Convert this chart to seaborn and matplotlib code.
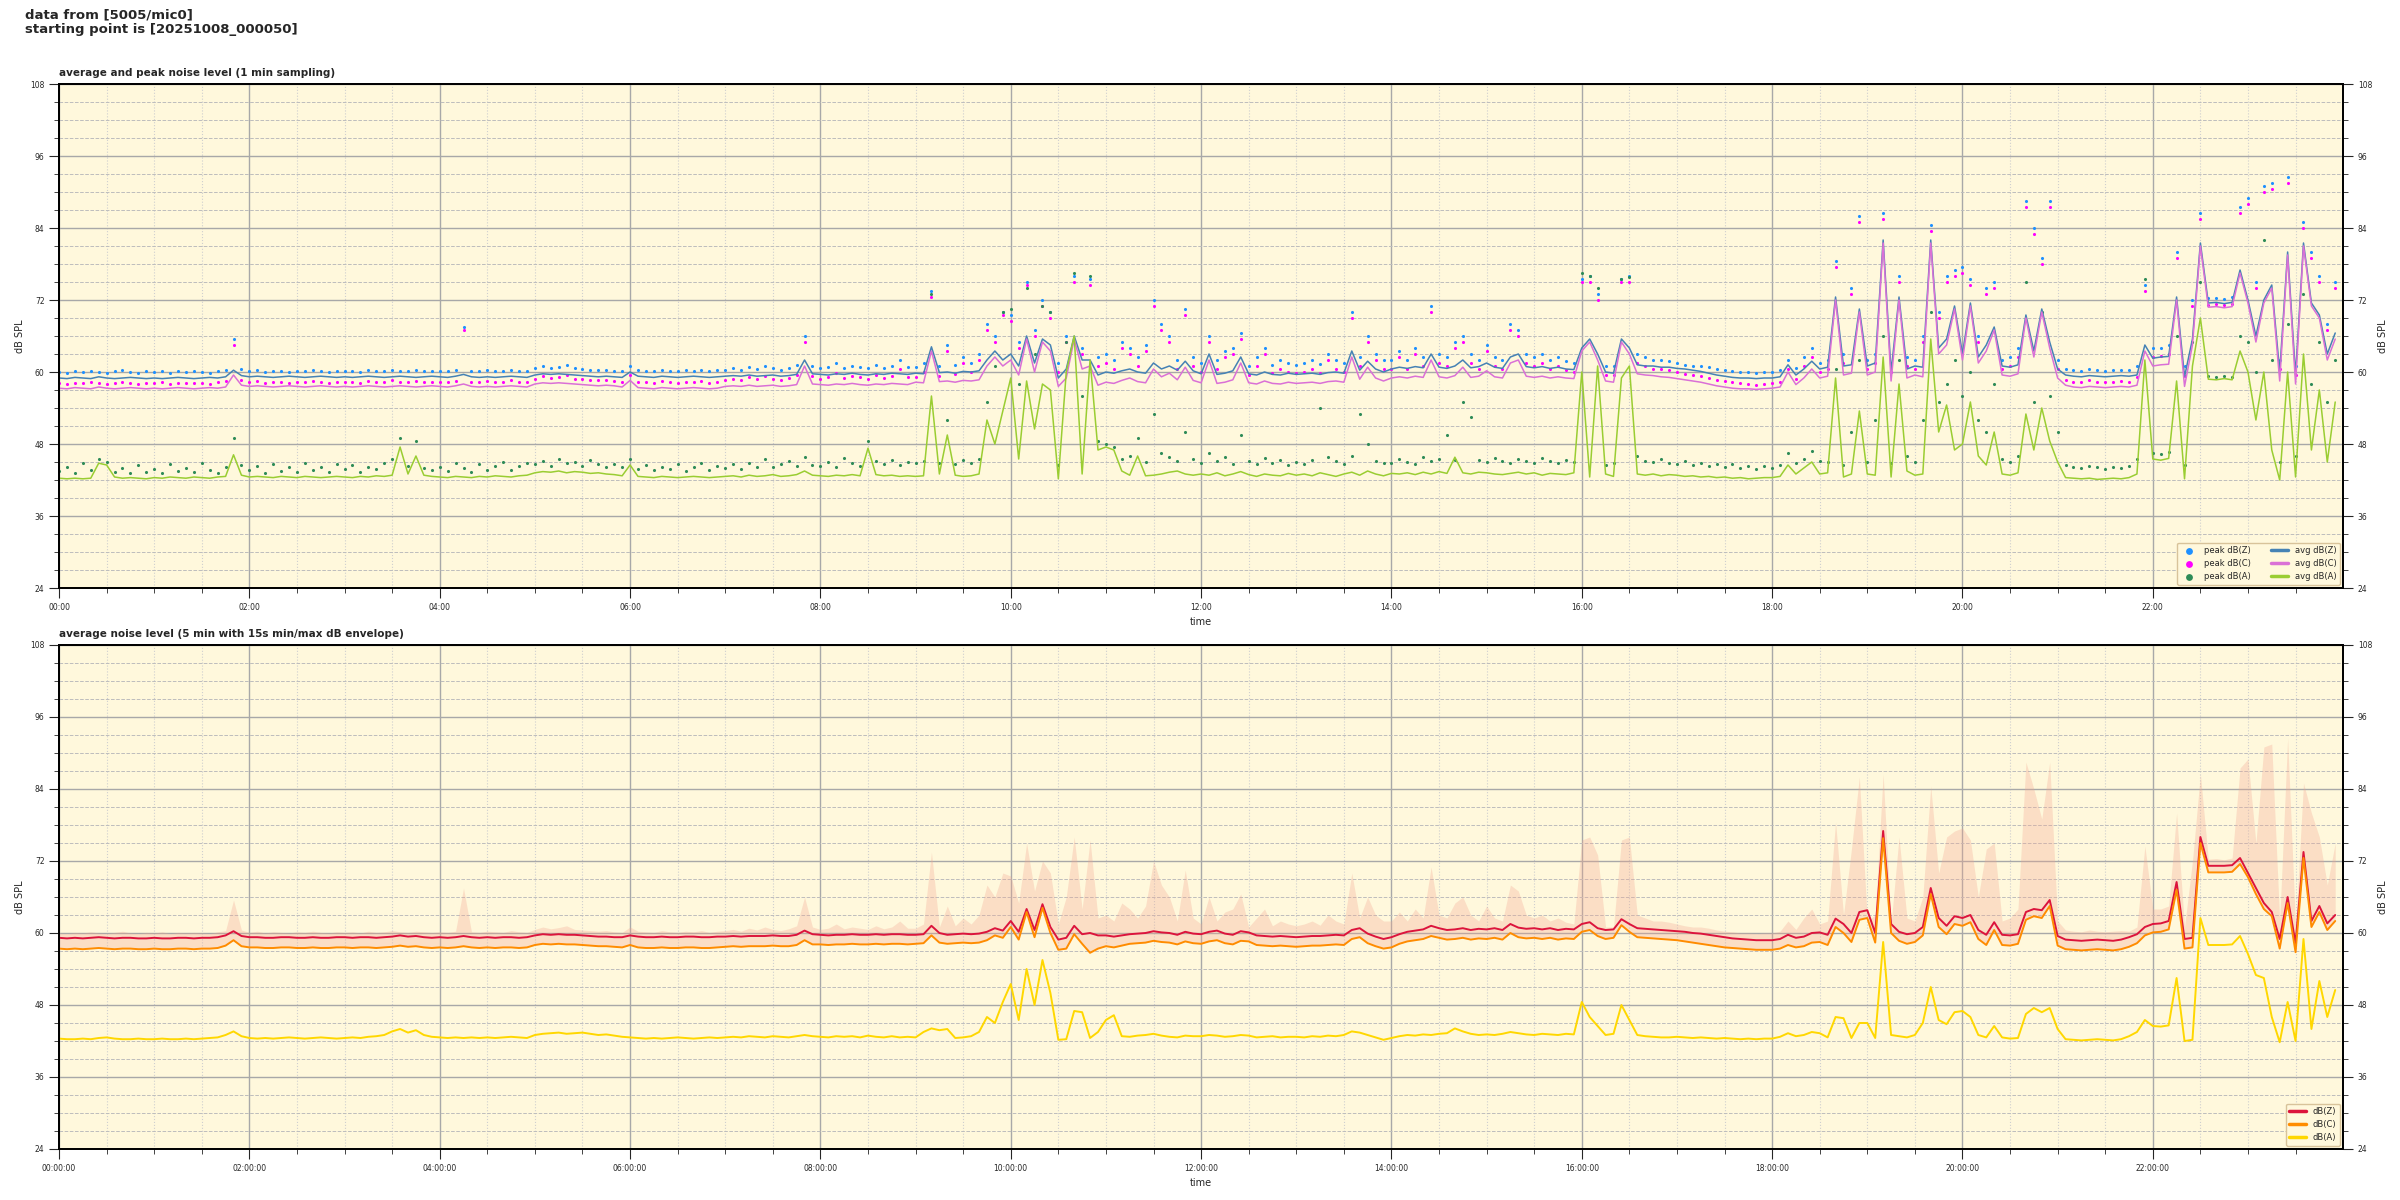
import pandas as pd
import numpy as np
import matplotlib
matplotlib.use("Agg")
import matplotlib.pyplot as plt
import matplotlib.dates as mdates
from matplotlib.ticker import MultipleLocator
import seaborn as sns

# --- data (5 min slots, one row of 12 values per hour) ---
avg_z = [
    59.0, 58.9, 59.1, 59.0, 58.9, 59.2, 59.0, 58.9, 59.0, 59.1, 59.0, 58.9,
    59.0, 58.9, 59.0, 59.1, 59.0, 58.9, 59.0, 59.1, 59.0, 59.2, 60.3, 59.4,
    59.2, 59.3, 59.2, 59.1, 59.2, 59.3, 59.2, 59.1, 59.2, 59.3, 59.2, 59.1,
    59.2, 59.1, 59.2, 59.3, 59.2, 59.1, 59.2, 59.3, 59.2, 59.1, 59.2, 59.3,
    59.2, 59.1, 59.3, 59.6, 59.2, 59.1, 59.2, 59.1, 59.2, 59.3, 59.2, 59.1,
    59.5, 59.7, 59.6, 59.7, 59.6, 59.5, 59.4, 59.3, 59.2, 59.3, 59.2, 59.1,
    60.0, 59.3, 59.2, 59.1, 59.3, 59.2, 59.1, 59.2, 59.3, 59.2, 59.1, 59.2,
    59.3, 59.4, 59.3, 59.5, 59.3, 59.4, 59.5, 59.3, 59.4, 59.6, 62.0, 59.7,
    59.6, 59.5, 59.7, 59.6, 59.8, 59.6, 59.5, 59.7, 59.6, 59.8, 59.7, 59.6,
    59.8, 59.7, 64.2, 59.9, 60.0, 59.8, 60.1, 60.0, 60.2, 62.0, 63.5, 62.0,
    63.0, 61.0, 66.0, 61.5, 65.5, 64.5, 59.0, 60.5, 66.0, 62.0, 62.0, 59.5,
    60.0, 59.8, 60.2, 60.5, 60.0, 59.8, 61.5, 60.5, 61.0, 60.3, 61.8, 60.2,
    59.7, 63.0, 59.6, 59.8, 60.2, 62.5, 59.7, 59.5, 60.0, 59.6, 59.5, 59.8,
    59.6, 59.7, 59.8, 59.6, 59.9, 60.0, 59.8, 63.5, 60.3, 61.8, 60.5, 60.0,
    60.5, 60.8, 60.6, 60.9, 60.7, 63.0, 60.8, 60.6, 61.0, 62.0, 60.7, 60.9,
    61.5, 60.8, 60.6, 62.5, 63.0, 60.9, 60.7, 60.9, 60.6, 60.8, 60.5, 60.4,
    64.0, 65.5, 63.0, 60.0, 59.8, 65.5, 64.0, 61.2, 61.0, 61.0, 60.8, 60.8,
    60.6, 60.5, 60.3, 60.1, 59.8, 59.5, 59.3, 59.1, 59.0, 59.0, 58.9, 59.0,
    59.0, 59.2, 61.2, 59.5, 60.5, 61.8, 60.5, 60.8, 72.5, 61.0, 61.2, 70.5,
    61.0, 61.5, 82.0, 60.0, 72.5, 60.5, 61.0, 60.8, 82.0, 64.0, 65.5, 71.0,
    63.0, 71.5, 62.5, 64.5, 67.5, 61.0, 60.8, 61.2, 69.5, 63.5, 70.5, 65.0,
    60.5, 59.5, 59.3, 59.2, 59.4, 59.3, 59.2, 59.3, 59.4, 59.3, 59.5, 64.5,
    62.3, 62.5, 62.6, 72.5, 59.2, 65.5, 81.5, 71.5, 71.6, 71.4, 71.6, 77.0,
    72.0, 66.0, 72.0, 74.5, 60.0, 80.0, 59.5, 81.5, 71.5, 69.5, 63.0, 66.5,
]

avg_c = [
    57.3, 57.2, 57.4, 57.3, 57.2, 57.5, 57.3, 57.2, 57.3, 57.4, 57.3, 57.2,
    57.3, 57.2, 57.3, 57.4, 57.3, 57.2, 57.3, 57.4, 57.3, 57.5, 59.5, 57.8,
    57.6, 57.7, 57.6, 57.5, 57.6, 57.7, 57.6, 57.5, 57.6, 57.7, 57.6, 57.5,
    57.6, 57.5, 57.6, 57.7, 57.6, 57.5, 57.6, 57.7, 57.6, 57.5, 57.6, 57.7,
    57.6, 57.5, 57.7, 58.0, 57.6, 57.5, 57.6, 57.5, 57.6, 57.7, 57.6, 57.5,
    58.0, 58.2, 58.1, 58.2, 58.1, 58.0, 57.9, 57.8, 57.7, 57.8, 57.7, 57.5,
    58.6, 57.4, 57.3, 57.2, 57.4, 57.3, 57.2, 57.3, 57.4, 57.3, 57.2, 57.3,
    57.6, 57.7, 57.6, 57.8, 57.6, 57.7, 57.8, 57.6, 57.7, 57.9, 61.0, 58.0,
    57.9, 57.8, 58.0, 57.9, 58.1, 57.9, 57.8, 58.0, 57.9, 58.1, 58.0, 57.9,
    58.3, 58.2, 63.5, 58.4, 58.5, 58.3, 58.6, 58.5, 58.7, 61.0, 62.5, 61.0,
    62.0, 59.5, 65.5, 60.0, 65.0, 63.5, 57.6, 59.0, 65.5, 60.5, 61.0, 57.8,
    58.3, 58.1, 58.6, 59.0, 58.4, 58.2, 60.5, 59.2, 59.8, 58.7, 60.8, 58.6,
    58.2, 62.0, 58.1, 58.3, 58.7, 61.5, 58.2, 58.0, 58.5, 58.1, 58.0, 58.3,
    58.1, 58.2, 58.3, 58.1, 58.4, 58.5, 58.3, 62.5, 58.8, 60.8, 59.0, 58.5,
    59.0, 59.2, 59.0, 59.3, 59.1, 62.0, 59.2, 59.0, 59.4, 60.8, 59.1, 59.3,
    60.2, 59.2, 59.0, 61.5, 62.0, 59.3, 59.1, 59.3, 59.0, 59.2, 59.0, 58.9,
    63.5, 65.0, 62.0, 58.5, 58.3, 65.0, 63.0, 59.7, 59.5, 59.4, 59.2, 59.1,
    58.9, 58.7, 58.5, 58.3, 58.0, 57.7, 57.5, 57.3, 57.2, 57.2, 57.1, 57.2,
    57.3, 57.5, 60.0, 57.9, 59.0, 60.5, 59.0, 59.3, 72.0, 59.5, 59.8, 70.0,
    59.5, 60.0, 81.5, 58.5, 72.0, 59.0, 59.5, 59.2, 81.5, 63.0, 64.5, 70.5,
    62.0, 71.0, 61.5, 63.5, 67.0, 59.5, 59.3, 59.7, 69.0, 62.5, 70.0, 64.0,
    59.0, 57.8, 57.5, 57.4, 57.6, 57.5, 57.4, 57.5, 57.6, 57.5, 57.8, 63.5,
    61.0, 61.2, 61.3, 72.0, 57.6, 64.5, 81.0, 70.8, 70.9, 70.7, 70.9, 76.5,
    71.5, 65.0, 71.5, 74.0, 58.5, 79.5, 58.0, 81.0, 71.0, 69.0, 62.0, 65.5,
]

avg_a = [
    42.3, 42.2, 42.3, 42.2, 42.3, 44.8, 44.5, 42.5, 42.3, 42.4, 42.3, 42.2,
    42.4, 42.3, 42.5, 42.4, 42.3, 42.5, 42.4, 42.3, 42.5, 42.6, 46.2, 42.8,
    42.5, 42.6, 42.5, 42.4, 42.6, 42.5, 42.4, 42.6, 42.5, 42.4, 42.5, 42.6,
    42.5, 42.4, 42.6, 42.5, 42.7, 42.6, 42.8, 47.5, 43.0, 46.0, 42.8, 42.6,
    42.5, 42.4, 42.6, 42.5, 42.4, 42.6, 42.5, 42.7, 42.6, 42.5, 42.7, 42.8,
    43.2, 43.4, 43.3, 43.5, 43.2, 43.4, 43.3, 43.1, 43.2, 43.0, 42.9, 42.7,
    44.5, 42.6, 42.5, 42.4, 42.6, 42.5, 42.4, 42.5, 42.6, 42.5, 42.4, 42.5,
    42.6, 42.7, 42.5, 42.8, 42.6, 42.7, 42.9, 42.6, 42.7, 42.9, 43.5, 42.8,
    42.7, 42.6, 42.8, 42.7, 42.9, 42.7, 47.3, 42.9, 42.7, 42.8, 42.6, 42.7,
    42.6, 42.7, 56.0, 43.0, 49.5, 42.8, 42.6, 42.7, 43.0, 52.0, 48.0, 53.5,
    59.0, 45.5, 58.5, 50.5, 58.0, 57.0, 42.2, 60.0, 66.0, 43.0, 62.0, 47.0,
    47.5, 47.0, 43.5, 42.8, 46.0, 42.7, 42.8, 43.0, 43.3, 43.5, 43.0, 42.8,
    43.0, 42.8, 43.2, 42.7, 43.0, 43.4, 42.9, 42.6, 43.0, 42.8, 42.7, 43.1,
    42.8, 43.0, 42.7, 43.2, 42.9, 42.6, 43.0, 43.3, 42.8, 43.5, 43.0, 42.7,
    43.1, 43.0, 43.2, 42.9, 43.3, 43.0, 43.4, 43.1, 45.8, 43.2, 43.0, 43.3,
    43.2, 43.0, 42.9, 43.1, 43.3, 43.0, 43.2, 42.8, 43.1, 43.0, 42.9, 43.2,
    60.0, 42.5, 61.0, 43.0, 42.6, 59.0, 61.0, 43.0, 42.8, 43.0, 42.7, 42.9,
    42.8, 42.6, 42.7, 42.5, 42.6, 42.4, 42.5, 42.3, 42.4, 42.2, 42.3, 42.4,
    42.4, 42.6, 44.5, 43.0, 44.0, 45.0, 43.0, 43.2, 59.0, 42.5, 43.0, 53.5,
    43.0, 42.8, 62.5, 42.5, 58.0, 43.5, 42.8, 43.0, 65.5, 50.0, 54.5, 47.0,
    48.0, 55.0, 46.0, 44.5, 50.0, 43.0, 42.8, 43.2, 53.0, 47.0, 54.0, 48.5,
    45.0, 42.4, 42.3, 42.2, 42.3, 42.1, 42.2, 42.3, 42.2, 42.4, 43.0, 62.0,
    45.5, 45.3, 45.6, 58.5, 42.2, 61.0, 69.0, 58.8, 58.7, 58.9, 58.7, 63.5,
    60.0, 52.0, 60.0, 47.0, 42.0, 60.0, 42.5, 63.0, 47.0, 57.0, 45.0, 55.0,
]

peak_z = [
    60.0, 59.9, 60.1, 60.0, 60.2, 60.0, 59.9, 60.1, 60.3, 60.0, 59.9, 60.1,
    60.0, 60.2, 59.9, 60.1, 60.0, 60.1, 60.0, 59.9, 60.2, 60.4, 65.5, 60.5,
    60.1, 60.3, 60.0, 60.2, 60.1, 60.0, 60.2, 60.1, 60.3, 60.1, 60.0, 60.2,
    60.1, 60.2, 60.0, 60.3, 60.1, 60.2, 60.4, 60.2, 60.1, 60.3, 60.2, 60.1,
    60.2, 60.1, 60.3, 67.5, 60.2, 60.1, 60.3, 60.2, 60.1, 60.4, 60.2, 60.1,
    60.6, 61.0, 60.7, 60.9, 61.2, 60.6, 60.5, 60.4, 60.3, 60.4, 60.2, 60.1,
    61.0, 60.3, 60.2, 60.1, 60.4, 60.2, 60.1, 60.3, 60.2, 60.4, 60.1, 60.3,
    60.4, 60.6, 60.3, 60.8, 60.5, 61.0, 60.6, 60.4, 60.7, 61.2, 66.0, 61.0,
    60.6, 60.8, 61.5, 60.7, 61.0, 60.8, 60.6, 61.2, 60.7, 61.0, 62.0, 60.8,
    60.8, 61.5, 73.5, 61.0, 64.5, 61.2, 62.5, 61.5, 63.0, 68.0, 66.0, 70.0,
    69.5, 65.0, 75.0, 67.0, 72.0, 70.0, 61.5, 66.0, 76.0, 64.0, 75.5, 62.5,
    63.0, 62.0, 65.0, 64.0, 62.5, 64.5, 72.0, 68.0, 66.0, 62.0, 70.5, 62.5,
    61.5, 66.0, 62.0, 63.5, 64.0, 66.5, 61.0, 62.5, 64.0, 61.2, 62.0, 61.5,
    61.2, 61.5, 62.0, 61.3, 63.0, 62.0, 61.5, 70.0, 62.5, 66.0, 63.0, 62.0,
    62.0, 63.5, 62.0, 64.0, 62.5, 71.0, 63.0, 62.5, 65.0, 66.0, 63.0, 62.0,
    64.5, 62.5, 62.0, 68.0, 67.0, 63.0, 62.5, 63.0, 62.0, 62.5, 61.8, 61.5,
    75.5, 76.0, 73.0, 61.0, 61.0, 75.5, 76.0, 63.0, 62.5, 62.0, 62.0, 61.8,
    61.5, 61.2, 61.0, 61.0, 60.8, 60.5, 60.3, 60.2, 60.0, 60.0, 59.9, 60.0,
    60.0, 60.3, 62.0, 60.6, 62.5, 64.0, 61.5, 62.0, 78.5, 63.0, 74.0, 86.0,
    62.0, 63.0, 86.5, 61.5, 76.0, 62.5, 62.0, 66.0, 84.5, 70.0, 76.0, 77.0,
    77.5, 75.5, 66.0, 74.0, 75.0, 62.0, 62.5, 64.0, 88.5, 84.0, 79.0, 88.5,
    62.0, 60.5, 60.3, 60.2, 60.5, 60.3, 60.2, 60.3, 60.4, 60.3, 61.0, 74.5,
    64.0, 64.0, 64.5, 80.0, 61.0, 72.0, 86.5, 72.3, 72.4, 72.2, 72.5, 87.5,
    89.0, 75.0, 91.0, 91.5, 62.0, 92.5, 61.0, 85.0, 80.0, 76.0, 68.0, 75.0,
]

peak_c = [
    58.1, 58.0, 58.2, 58.1, 58.3, 58.1, 58.0, 58.2, 58.4, 58.1, 58.0, 58.2,
    58.1, 58.3, 58.0, 58.2, 58.1, 58.2, 58.1, 58.0, 58.3, 58.5, 64.5, 58.6,
    58.3, 58.5, 58.2, 58.4, 58.3, 58.2, 58.4, 58.3, 58.5, 58.3, 58.2, 58.4,
    58.3, 58.4, 58.2, 58.5, 58.3, 58.4, 58.6, 58.4, 58.3, 58.5, 58.4, 58.3,
    58.4, 58.3, 58.5, 67.0, 58.4, 58.3, 58.5, 58.4, 58.3, 58.6, 58.4, 58.3,
    58.9, 59.3, 59.0, 59.2, 59.5, 58.9, 58.8, 58.7, 58.6, 58.7, 58.5, 58.4,
    59.5, 58.4, 58.3, 58.2, 58.5, 58.3, 58.2, 58.4, 58.3, 58.5, 58.2, 58.4,
    58.7, 58.9, 58.6, 59.1, 58.8, 59.3, 58.9, 58.7, 59.0, 59.5, 65.0, 59.3,
    58.9, 59.1, 59.8, 59.0, 59.3, 59.1, 58.9, 59.5, 59.0, 59.3, 60.5, 59.1,
    59.2, 60.0, 72.5, 59.4, 63.5, 59.6, 61.5, 60.0, 62.0, 67.0, 65.0, 69.5,
    68.5, 64.0, 74.5, 66.0, 71.0, 69.0, 60.0, 65.0, 75.0, 63.0, 74.5, 61.0,
    61.5, 60.5, 64.0, 63.0, 61.0, 63.5, 71.0, 67.0, 65.0, 60.5, 69.5, 61.0,
    60.0, 65.0, 60.5, 62.5, 63.0, 65.5, 59.5, 61.0, 63.0, 59.8, 60.5, 60.0,
    59.8, 60.0, 60.5, 59.9, 62.0, 60.5, 60.0, 69.0, 61.0, 65.0, 62.0, 60.5,
    60.5, 62.5, 60.5, 63.0, 61.0, 70.0, 61.5, 61.0, 64.0, 65.0, 61.5, 60.5,
    63.5, 61.0, 60.5, 67.0, 66.0, 61.5, 61.0, 61.5, 60.5, 61.0, 60.3, 60.0,
    75.0, 75.0, 72.0, 59.5, 59.5, 75.0, 75.0, 61.5, 61.0, 60.5, 60.5, 60.3,
    60.0, 59.7, 59.5, 59.3, 59.0, 58.7, 58.5, 58.3, 58.1, 58.0, 57.9, 58.0,
    58.1, 58.4, 60.5, 58.8, 61.0, 62.5, 60.0, 60.5, 77.5, 61.5, 73.0, 85.0,
    60.5, 61.5, 85.5, 60.0, 75.0, 61.0, 60.5, 65.0, 83.5, 69.0, 75.0, 76.0,
    76.5, 74.5, 65.0, 73.0, 74.0, 60.5, 61.0, 62.5, 87.5, 83.0, 78.0, 87.5,
    60.5, 58.6, 58.4, 58.3, 58.6, 58.4, 58.3, 58.4, 58.5, 58.4, 59.2, 73.5,
    62.5, 62.6, 63.0, 79.0, 59.3, 71.0, 85.5, 71.2, 71.3, 71.1, 71.4, 86.5,
    88.0, 74.0, 90.0, 90.5, 60.5, 91.5, 59.5, 84.0, 79.0, 75.0, 67.0, 74.0,
]

peak_a = [
    43.5, 44.2, 43.1, 44.8, 43.6, 45.5, 45.0, 43.4, 44.0, 43.2, 44.5, 43.3,
    43.8, 43.2, 44.6, 43.5, 44.0, 43.3, 44.9, 43.6, 43.1, 44.2, 49.0, 44.5,
    43.6, 44.3, 43.2, 44.7, 43.5, 44.1, 43.4, 44.9, 43.7, 44.2, 43.3, 44.6,
    43.8, 44.5, 43.4, 44.2, 43.9, 44.8, 45.5, 49.0, 44.3, 48.5, 44.0, 43.6,
    44.2, 43.5, 44.8, 44.0, 43.4, 44.6, 43.7, 44.3, 45.0, 43.6, 44.4, 44.9,
    44.6, 45.2, 44.3, 45.5, 44.8, 45.0, 44.4, 45.3, 44.6, 44.1, 44.7, 44.2,
    45.5, 43.9, 44.5, 43.6, 44.2, 43.8, 44.6, 43.5, 44.1, 44.8, 43.7, 44.3,
    44.0, 44.7, 43.8, 44.9, 44.2, 45.5, 44.1, 44.6, 45.2, 44.3, 45.8, 44.5,
    44.4, 45.0, 44.2, 45.6, 44.8, 44.3, 48.5, 45.1, 44.6, 45.3, 44.5, 45.0,
    44.8, 45.2, 73.0, 44.9, 52.0, 44.6, 45.3, 44.8, 45.5, 55.0, 61.0, 70.0,
    70.5, 58.0, 74.0, 63.0, 71.0, 70.0, 44.5, 65.0, 76.5, 56.0, 76.0, 48.5,
    48.0, 47.5, 45.5, 46.0, 49.0, 45.0, 53.0, 46.5, 45.8, 45.2, 50.0, 45.5,
    44.8, 46.5, 45.2, 45.8, 44.6, 49.5, 45.1, 44.7, 45.6, 44.9, 45.3, 44.5,
    45.0, 44.6, 45.4, 54.0, 45.9, 45.2, 44.7, 46.0, 53.0, 48.0, 45.1, 44.9,
    44.9, 45.5, 45.0, 44.6, 45.8, 45.2, 45.5, 49.5, 45.4, 55.0, 52.5, 45.3,
    45.0, 45.6, 45.2, 44.8, 45.5, 45.1, 44.9, 45.7, 45.2, 44.8, 45.3, 45.0,
    76.5, 76.0, 74.0, 44.5, 44.8, 75.5, 75.8, 46.0, 45.2, 45.0, 45.5, 44.8,
    44.6, 45.1, 44.5, 44.9, 44.3, 44.7, 44.2, 44.6, 44.0, 44.4, 43.9, 44.3,
    44.0, 44.5, 46.5, 44.8, 45.5, 46.8, 45.2, 45.0, 60.5, 44.5, 50.0, 62.0,
    45.0, 52.0, 66.0, 44.8, 62.0, 46.0, 45.0, 52.0, 70.0, 55.0, 58.0, 62.0,
    56.0, 60.0, 52.0, 50.0, 58.0, 45.5, 45.0, 46.0, 75.0, 55.0, 70.0, 56.0,
    50.0, 44.5, 44.2, 44.0, 44.3, 44.1, 43.9, 44.2, 44.0, 44.4, 45.5, 75.5,
    46.5, 46.3, 46.6, 66.0, 44.5, 65.0, 75.0, 59.3, 59.2, 59.4, 59.1, 66.0,
    65.0, 60.0, 82.0, 62.0, 45.0, 68.0, 46.0, 73.0, 58.0, 65.0, 55.0, 62.0,
]

# 5 min averages for the lower panel
env_z = [
    59.2, 59.1, 59.2, 59.1, 59.2, 59.3, 59.2, 59.1, 59.2, 59.2, 59.1, 59.1,
    59.2, 59.1, 59.1, 59.2, 59.2, 59.1, 59.2, 59.2, 59.3, 59.6, 60.3, 59.5,
    59.3, 59.3, 59.2, 59.2, 59.3, 59.3, 59.2, 59.2, 59.3, 59.2, 59.2, 59.3,
    59.3, 59.2, 59.3, 59.3, 59.2, 59.3, 59.4, 59.6, 59.4, 59.5, 59.3, 59.2,
    59.3, 59.2, 59.3, 59.5, 59.3, 59.2, 59.3, 59.2, 59.3, 59.3, 59.2, 59.3,
    59.6, 59.8, 59.7, 59.8, 59.7, 59.7, 59.6, 59.5, 59.4, 59.4, 59.3, 59.3,
    59.6, 59.4, 59.3, 59.3, 59.4, 59.3, 59.3, 59.4, 59.4, 59.3, 59.3, 59.4,
    59.4, 59.5, 59.4, 59.5, 59.5, 59.5, 59.6, 59.5, 59.5, 59.7, 60.4, 59.8,
    59.7, 59.6, 59.7, 59.7, 59.8, 59.7, 59.7, 59.8, 59.7, 59.8, 59.8, 59.7,
    59.7, 59.8, 61.2, 60.0, 59.7, 59.8, 59.9, 59.8, 59.9, 60.2, 60.8, 60.4,
    62.0, 60.2, 64.0, 60.5, 64.8, 61.0, 58.9, 59.2, 61.2, 59.8, 60.0, 59.6,
    59.6, 59.4, 59.6, 59.8, 59.9, 60.0, 60.3, 60.1, 60.0, 59.7, 60.2, 59.9,
    59.8, 60.2, 60.4, 59.9, 59.7, 60.3, 60.1, 59.6, 59.5, 59.4, 59.5, 59.4,
    59.3, 59.4, 59.5, 59.5, 59.6, 59.7, 59.6, 60.5, 60.8, 59.9, 59.4, 59.0,
    59.3, 59.8, 60.2, 60.4, 60.6, 61.2, 60.8, 60.5, 60.6, 60.8, 60.5, 60.7,
    60.6, 60.8, 60.5, 61.5, 60.9, 60.7, 60.8, 60.6, 60.8, 60.5, 60.7, 60.6,
    61.5, 61.8, 60.8, 60.5, 60.6, 62.3, 61.5, 60.8, 60.7, 60.6, 60.5, 60.4,
    60.3, 60.2, 60.0, 59.9, 59.7, 59.5, 59.3, 59.1, 59.0, 58.9, 58.8, 58.8,
    58.8, 59.0, 59.7, 59.2, 59.4, 60.0, 60.1, 59.7, 62.4, 61.5, 60.0, 63.5,
    63.8, 60.0, 77.0, 61.5, 60.2, 59.8, 60.0, 61.0, 67.5, 62.5, 61.2, 62.8,
    62.5, 63.0, 60.5, 59.7, 61.8, 59.7, 59.6, 59.8, 63.5, 64.0, 63.8, 65.5,
    59.5, 58.9, 58.8, 58.7, 58.8, 58.9, 58.8, 58.7, 58.9, 59.3, 59.8, 61.0,
    61.5, 61.6, 62.0, 68.5, 59.0, 59.2, 76.0, 71.2, 71.2, 71.2, 71.3, 72.5,
    70.0, 67.5, 65.0, 63.5, 59.0, 66.0, 58.3, 73.5, 62.0, 64.5, 61.6, 63.0,
]

env_c = [
    57.4, 57.3, 57.4, 57.3, 57.4, 57.5, 57.4, 57.3, 57.4, 57.4, 57.3, 57.3,
    57.4, 57.3, 57.3, 57.4, 57.4, 57.3, 57.4, 57.4, 57.5, 57.9, 58.8, 57.8,
    57.6, 57.6, 57.5, 57.5, 57.6, 57.6, 57.5, 57.5, 57.6, 57.5, 57.5, 57.6,
    57.6, 57.5, 57.6, 57.6, 57.5, 57.6, 57.7, 57.9, 57.7, 57.8, 57.6, 57.5,
    57.6, 57.5, 57.6, 57.8, 57.6, 57.5, 57.6, 57.5, 57.6, 57.6, 57.5, 57.6,
    58.0, 58.2, 58.1, 58.2, 58.1, 58.1, 58.0, 57.9, 57.8, 57.8, 57.7, 57.6,
    58.0, 57.6, 57.5, 57.5, 57.6, 57.5, 57.5, 57.6, 57.6, 57.5, 57.5, 57.6,
    57.7, 57.8, 57.7, 57.8, 57.8, 57.8, 57.9, 57.8, 57.8, 58.0, 58.8, 58.1,
    58.1, 58.0, 58.1, 58.1, 58.2, 58.1, 58.1, 58.2, 58.1, 58.2, 58.2, 58.1,
    58.2, 58.3, 59.6, 58.4, 58.2, 58.3, 58.4, 58.3, 58.4, 58.8, 59.6, 59.2,
    61.0, 58.9, 63.5, 59.3, 64.2, 60.0, 57.2, 57.4, 59.8, 58.2, 56.7, 57.4,
    57.8, 57.6, 57.9, 58.2, 58.3, 58.4, 58.7, 58.5, 58.4, 58.1, 58.6, 58.3,
    58.2, 58.6, 58.8, 58.3, 58.1, 58.7, 58.6, 58.0, 57.9, 57.8, 57.9, 57.8,
    57.7, 57.8, 57.9, 57.9, 58.0, 58.1, 58.0, 59.0, 59.3, 58.3, 57.8, 57.4,
    57.6, 58.2, 58.6, 58.8, 59.0, 59.5, 59.2, 58.9, 59.0, 59.2, 58.9, 59.1,
    59.0, 59.2, 58.9, 60.0, 59.3, 59.1, 59.2, 59.0, 59.2, 58.9, 59.1, 59.0,
    60.2, 60.5, 59.5, 59.0, 59.2, 61.3, 60.2, 59.3, 59.2, 59.1, 59.0, 58.9,
    58.8, 58.6, 58.4, 58.2, 58.0, 57.8, 57.6, 57.5, 57.4, 57.3, 57.2, 57.2,
    57.2, 57.4, 58.0, 57.6, 57.8, 58.4, 58.5, 58.0, 61.0, 60.0, 58.5, 62.2,
    62.5, 58.4, 75.8, 60.0, 58.7, 58.2, 58.5, 59.6, 66.5, 61.0, 59.8, 61.5,
    61.2, 61.8, 59.0, 58.0, 60.5, 58.0, 57.9, 58.2, 62.2, 62.8, 62.5, 64.5,
    57.9, 57.3, 57.2, 57.1, 57.2, 57.3, 57.2, 57.1, 57.3, 57.7, 58.3, 59.6,
    60.1, 60.2, 60.6, 67.2, 57.4, 57.6, 75.0, 70.1, 70.1, 70.1, 70.2, 71.5,
    69.3, 66.5, 64.0, 62.8, 57.4, 65.0, 56.8, 72.5, 61.0, 63.5, 60.5, 62.0,
]

env_a = [
    42.4, 42.3, 42.3, 42.4, 42.3, 42.5, 42.6, 42.4, 42.3, 42.3, 42.4, 42.3,
    42.3, 42.4, 42.3, 42.3, 42.4, 42.3, 42.4, 42.5, 42.6, 43.0, 43.6, 42.8,
    42.5, 42.4, 42.5, 42.4, 42.5, 42.6, 42.5, 42.4, 42.5, 42.6, 42.5, 42.4,
    42.5, 42.6, 42.5, 42.7, 42.8, 43.0, 43.6, 44.0, 43.4, 43.8, 43.0, 42.7,
    42.6, 42.5, 42.6, 42.5, 42.6, 42.5, 42.6, 42.5, 42.6, 42.7, 42.6, 42.5,
    43.0, 43.2, 43.3, 43.4, 43.2, 43.3, 43.4, 43.2, 43.0, 43.1, 42.9, 42.7,
    42.6, 42.5, 42.4, 42.5, 42.4, 42.5, 42.6, 42.5, 42.4, 42.5, 42.6, 42.5,
    42.6, 42.7, 42.6, 42.8, 42.7, 42.6, 42.8, 42.7, 42.6, 42.8, 43.0, 42.8,
    42.7, 42.6, 42.8, 42.7, 42.8, 42.6, 42.9, 42.7, 42.6, 42.8, 42.6, 42.7,
    42.6, 43.5, 44.1, 43.8, 44.0, 42.5, 42.6, 42.8, 43.5, 46.0, 45.0, 48.5,
    51.5, 45.5, 54.0, 48.0, 55.5, 50.0, 42.2, 42.3, 47.0, 46.8, 42.5, 43.5,
    45.5, 46.3, 42.8, 42.7, 42.9, 43.0, 43.2, 42.9, 42.7, 42.6, 42.9, 42.8,
    42.8, 43.0, 42.9, 42.7, 42.8, 43.0, 42.9, 42.6, 42.7, 42.8, 42.6, 42.7,
    42.7, 42.6, 42.8, 42.7, 42.9, 42.8, 43.0, 43.6, 43.4, 43.0, 42.6, 42.2,
    42.5, 42.8, 43.0, 42.9, 43.1, 43.0, 43.2, 43.3, 44.1, 43.6, 43.2, 43.0,
    43.1, 43.0, 43.2, 43.5, 43.3, 43.1, 43.0, 43.2, 43.1, 43.0, 43.2, 43.1,
    48.5, 46.0, 44.5, 43.0, 43.2, 48.0, 45.5, 43.0, 42.8, 42.7, 42.6, 42.6,
    42.7, 42.6, 42.5, 42.6, 42.5, 42.4, 42.5, 42.4, 42.3, 42.4, 42.3, 42.4,
    42.4, 42.7, 43.3, 42.8, 43.0, 43.5, 43.3, 42.6, 46.0, 45.8, 42.5, 45.0,
    45.0, 42.5, 58.5, 43.0, 42.8, 42.6, 43.0, 45.0, 51.0, 45.5, 44.8, 46.8,
    47.0, 46.0, 43.0, 42.6, 44.5, 42.6, 42.4, 42.5, 46.5, 47.5, 46.8, 47.5,
    44.0, 42.3, 42.2, 42.1, 42.2, 42.3, 42.2, 42.1, 42.3, 42.8, 43.5, 45.5,
    44.5, 44.4, 44.6, 52.5, 42.0, 42.2, 62.5, 58.0, 58.0, 58.0, 58.1, 59.5,
    56.5, 53.0, 52.5, 46.0, 41.8, 48.5, 42.0, 59.0, 44.0, 52.0, 46.0, 50.5,
]

times = pd.date_range("2025-10-08 00:00", periods=len(avg_z), freq="5min")
df = pd.DataFrame({
    "time": times,
    "avg_z": avg_z, "avg_c": avg_c, "avg_a": avg_a,
    "peak_z": peak_z, "peak_c": peak_c, "peak_a": peak_a,
    "env_z": env_z, "env_c": env_c, "env_a": env_a,
})

sns.set_theme(style="ticks")
plt.rcParams["font.family"] = ["DejaVu Sans"]

bg = "#fff8dc"
t0 = pd.Timestamp("2025-10-08 00:00")
t1 = pd.Timestamp("2025-10-08 23:59:59")


def style_axes(ax, fmt):
    ax.set_facecolor(bg)
    ax.set_xlim(t0, t1)
    ax.set_ylim(24, 108)
    ax.yaxis.set_major_locator(MultipleLocator(12))
    ax.yaxis.set_minor_locator(MultipleLocator(3))
    ax.xaxis.set_major_locator(mdates.HourLocator(byhour=range(0, 24, 2)))
    ax.xaxis.set_minor_locator(mdates.MinuteLocator(byminute=[0, 30]))
    ax.xaxis.set_major_formatter(mdates.DateFormatter(fmt))
    ax.grid(which="major", color="#a8a8a8", linestyle="-", linewidth=1.0)
    ax.grid(which="minor", axis="y", color="#bdbdbd", linestyle="--", linewidth=0.7)
    ax.grid(which="minor", axis="x", color="#cfcfcf", linestyle=":", linewidth=0.8)
    ax.set_axisbelow(True)
    ax.tick_params(which="major", length=7, width=0.8, labelsize=5.5, direction="out")
    ax.tick_params(which="minor", length=3.5, width=0.6, direction="out")
    for s in ax.spines.values():
        s.set_linewidth(1.3)
        s.set_color("black")
    ax.set_xlabel("time", fontsize=7)
    ax.set_ylabel("dB SPL", fontsize=7)

    # right hand axis with the same scale
    ax2 = ax.twinx()
    ax2.set_ylim(24, 108)
    ax2.yaxis.set_major_locator(MultipleLocator(12))
    ax2.yaxis.set_minor_locator(MultipleLocator(3))
    ax2.tick_params(which="major", length=7, width=0.8, labelsize=5.5, direction="out")
    ax2.tick_params(which="minor", length=3.5, width=0.6, direction="out")
    ax2.set_ylabel("dB SPL", fontsize=7)
    for s in ax2.spines.values():
        s.set_linewidth(1.3)
        s.set_color("black")
    return ax2


fig = plt.figure(figsize=(24, 12), dpi=100)
fig.text(0.0105, 0.993, "data from [5005/mic0]\nstarting point is [20251008_000050]",
         ha="left", va="top", fontsize=9.5, fontweight="bold")

# --- top: 1 min average and peak values ---
ax = fig.add_axes([0.0246, 0.51, 0.9517, 0.42])
sns.scatterplot(data=df, x="time", y="peak_z", ax=ax, color="#1e90ff", s=5, marker="o",
                linewidth=0, label="peak dB(Z)")
sns.scatterplot(data=df, x="time", y="peak_c", ax=ax, color="#ff00ff", s=5, marker="o",
                linewidth=0, label="peak dB(C)")
sns.scatterplot(data=df, x="time", y="peak_a", ax=ax, color="#2e8b57", s=5, marker="o",
                linewidth=0, label="peak dB(A)")
sns.lineplot(data=df, x="time", y="avg_z", ax=ax, color="#4682b4", lw=1.1, label="avg dB(Z)")
sns.lineplot(data=df, x="time", y="avg_c", ax=ax, color="#da70d6", lw=1.1, label="avg dB(C)")
sns.lineplot(data=df, x="time", y="avg_a", ax=ax, color="#9acd32", lw=1.1, label="avg dB(A)")
style_axes(ax, "%H:%M")
ax.set_title("average and peak noise level (1 min sampling)", loc="left",
             fontsize=7.5, fontweight="bold", pad=6)
leg = ax.legend(loc="lower right", ncol=2, fontsize=6, facecolor=bg, edgecolor="#d8c39a",
                framealpha=1, markerscale=2.2, borderaxespad=0.4, columnspacing=2.5)
for ln in leg.get_lines():
    ln.set_linewidth(2.5)

# --- bottom: 5 min averages with min/max envelope ---
bx = fig.add_axes([0.0246, 0.0425, 0.9517, 0.42])
bx.fill_between(df["time"], df["env_c"], df["peak_z"], color="#f2a590", alpha=0.3, lw=0)
sns.lineplot(data=df, x="time", y="env_z", ax=bx, color="crimson", lw=1.4, label="dB(Z)")
sns.lineplot(data=df, x="time", y="env_c", ax=bx, color="darkorange", lw=1.4, label="dB(C)")
sns.lineplot(data=df, x="time", y="env_a", ax=bx, color="gold", lw=1.4, label="dB(A)")
style_axes(bx, "%H:%M:%S")
bx.set_title("average noise level (5 min with 15s min/max dB envelope)", loc="left",
             fontsize=7.5, fontweight="bold", pad=6)
leg2 = bx.legend(loc="lower right", fontsize=6, facecolor=bg, edgecolor="#d8c39a",
                 framealpha=1, borderaxespad=0.4)
for ln in leg2.get_lines():
    ln.set_linewidth(2.5)

fig.savefig("out.png", dpi=100)
